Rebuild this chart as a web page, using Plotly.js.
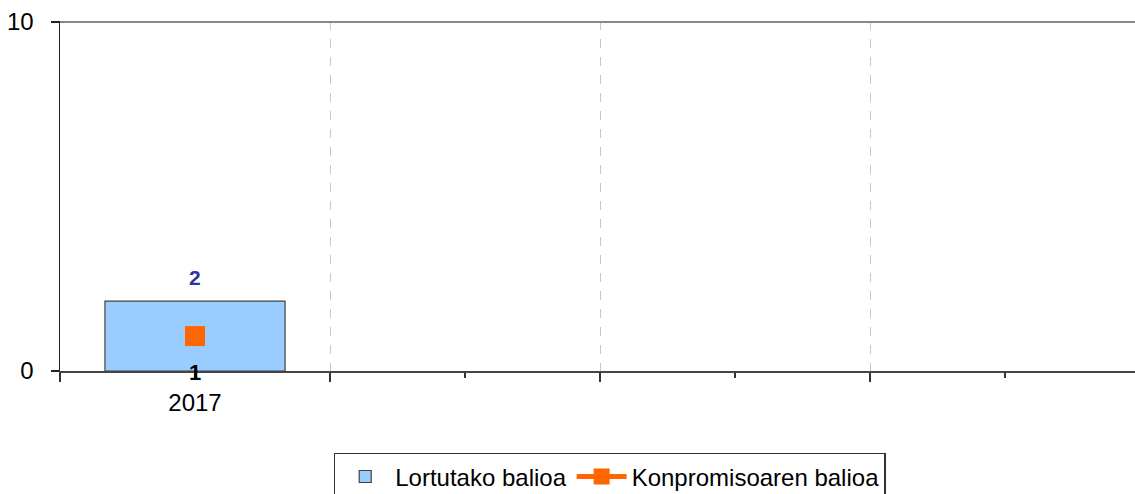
<!DOCTYPE html>
<html>
<head>
<meta charset="utf-8">
<script src="https://cdn.plot.ly/plotly-3.0.1.min.js"></script>
<style>
html,body{margin:0;padding:0;overflow:hidden;background:#fff;}
#chart{width:1140px;height:520px;}
</style>
</head>
<body>
<div id="chart"></div>
<script>
// Data
const categories = ["2017", "", "", ""];
const achievedName = "Lortutako balioa";
const achievedValues = [2];
const commitmentName = "Konpromisoaren balioa";
const commitmentValues = [1];
const yTickVals = [0, 10];

const xIdx = achievedValues.map((v, i) => i);
const xIdxC = commitmentValues.map((v, i) => i);

const font = "Liberation Sans, Arial, sans-serif";

const traces = [
  {
    type: "bar",
    name: achievedName,
    x: xIdx,
    y: achievedValues,
    width: 0.667,
    marker: {color: "#99CCFF", line: {color: "#404040", width: 1.2}},
    hoverinfo: "none"
  },
  {
    type: "scatter",
    mode: "lines+markers",
    name: commitmentName,
    x: xIdxC,
    y: commitmentValues,
    line: {color: "#FF6600", width: 5},
    marker: {color: "#FF6600", symbol: "square", size: 20},
    hoverinfo: "none"
  }
];

const annotations = [];
achievedValues.forEach((v, i) => {
  annotations.push({
    x: i, y: v, xref: "x", yref: "y", text: "<b>" + v + "</b>",
    showarrow: false, yanchor: "middle", yshift: 24,
    font: {family: font, size: 21, color: "#333399"}
  });
});
commitmentValues.forEach((v, i) => {
  annotations.push({
    x: i, y: v, xref: "x", yref: "y", text: "<b>" + v + "</b>",
    showarrow: false, yanchor: "middle", yshift: -36,
    font: {family: font, size: 22, color: "#000000"}
  });
});

const layout = {
  width: 1140,
  height: 520,
  margin: {l: 60, r: 0, t: 21, b: 149},
  paper_bgcolor: "#ffffff",
  plot_bgcolor: "#ffffff",
  font: {family: font, size: 24, color: "#000"},
  showlegend: true,
  xaxis: {
    type: "linear",
    range: [-0.5, categories.length - 0.5],
    tickmode: "array",
    tickvals: categories.map((c, i) => i),
    ticktext: categories,
    ticks: "outside",
    ticklen: 5,
    tickwidth: 1.5,
    tickcolor: "#333",
    showgrid: false,
    zeroline: false,
    showline: true,
    linecolor: "#444",
    linewidth: 2,
    ticklabelstandoff: 4,
    tickfont: {family: font, size: 24, color: "#000"},
    minor: {
      tick0: -0.5, dtick: 1, ticks: "outside", ticklen: 9, tickwidth: 1.5, tickcolor: "#333",
      showgrid: true, gridcolor: "#c8c8c8", griddash: "dash", gridwidth: 1
    },
    fixedrange: true
  },
  yaxis: {
    range: [0, 10.03],
    tickmode: "array",
    tickvals: yTickVals,
    ticks: "outside",
    ticklen: 8,
    tickwidth: 1.5,
    tickcolor: "#222",
    showgrid: true,
    gridcolor: "#888",
    gridwidth: 2,
    zeroline: false,
    showline: true,
    linecolor: "#222",
    linewidth: 1.5,
    ticklabelstandoff: 12,
    tickfont: {family: font, size: 24, color: "#000"},
    fixedrange: true
  },
  legend: {
    orientation: "h",
    x: 0.509, xanchor: "center",
    y: -0.234, yanchor: "top",
    bordercolor: "#333", borderwidth: 1.5,
    bgcolor: "#fff",
    font: {family: font, size: 24, color: "#000"},
    itemwidth: 50,
    tracegroupgap: 0
  },
  annotations: annotations
};

Plotly.newPlot("chart", traces, layout, {displayModeBar: false, staticPlot: true});
</script>
</body>
</html>
